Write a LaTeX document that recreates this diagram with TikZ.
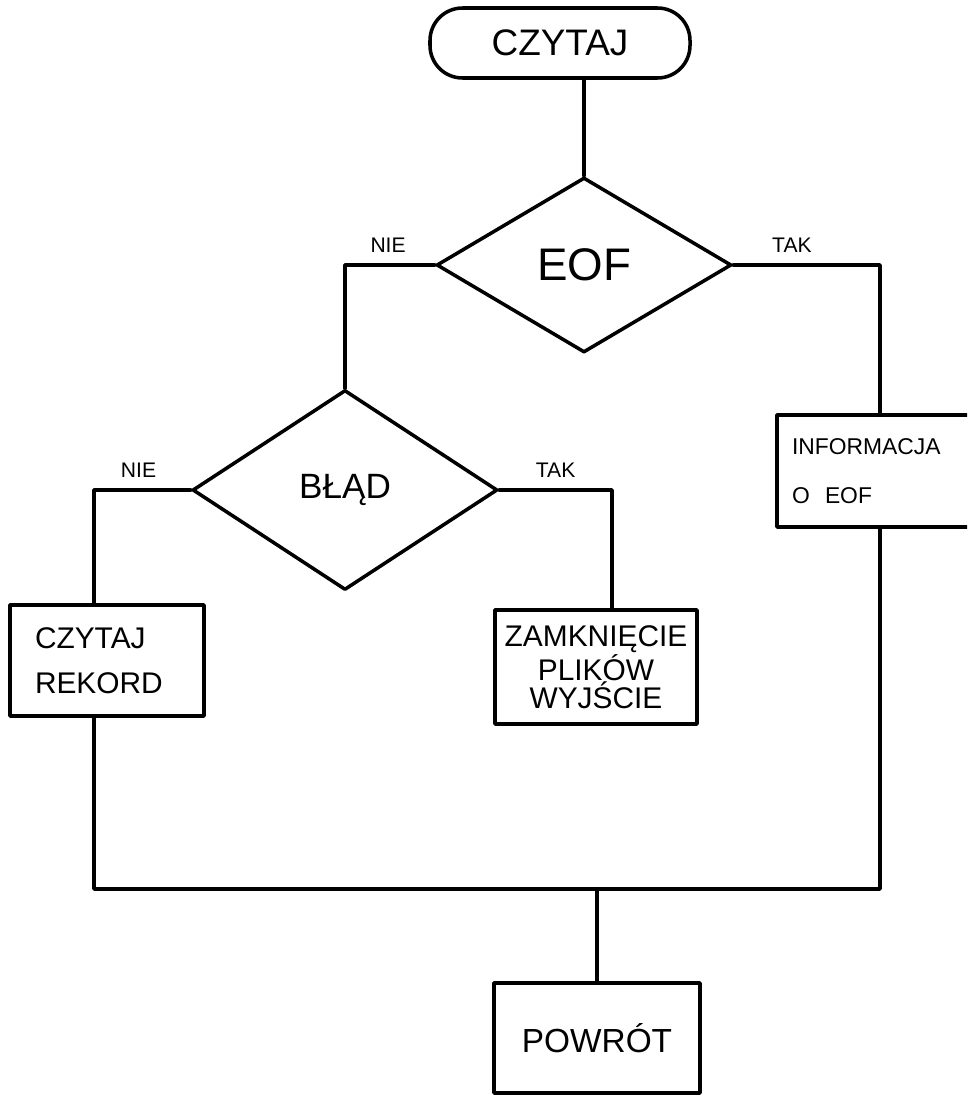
\documentclass[tikz,border=0pt]{standalone}
\usepackage{fontspec}
\setmainfont{Liberation Sans}
\usetikzlibrary{shapes.geometric}

\begin{document}
\begin{tikzpicture}[
  line width=2pt,
  line cap=round,
  line join=round,
  every node/.style={font=\fontsize{17}{16}\selectfont},
  box/.style={draw,rectangle,inner sep=0pt},
  decision/.style={draw,diamond,inner sep=0pt},
  terminal/.style={draw,rectangle,rounded corners=0.65cm,inner sep=0pt},
  answer/.style={font=\fontsize{12}{12}\selectfont,above=3pt}
]
  \clip (0,0) rectangle (19.34,-21.94);

  \coordinate (merge) at (11.94,-17.78);

  \node[terminal,minimum width=5.2cm,minimum height=1.4cm,
        font=\fontsize{21}{21}\selectfont] (start) at (11.2,-0.86) {CZYTAJ};
  \node[decision,minimum width=5.9cm,minimum height=3.5cm,
        font=\fontsize{26}{26}\selectfont] (eof) at (11.68,-5.3) {EOF};
  \node[decision,minimum width=6.1cm,minimum height=4.0cm,
        font=\fontsize{20}{20}\selectfont] (blad) at (6.9,-9.8) {BŁĄD};

  \node[box,text width=2.88cm,inner xsep=0.5cm,minimum height=2.22cm,align=left,
        font=\fontsize{17}{25.5}\selectfont] (rekord) at (2.14,-13.21) {CZYTAJ\\REKORD};
  \node[box,minimum width=4.04cm,minimum height=2.28cm,align=center]
    (zamk) at (11.92,-13.34) {ZAMKNIĘCIE\\PLIKÓW\\WYJŚCIE};
  \node[box,text width=3.52cm,inner xsep=0.3cm,minimum height=2.24cm,align=left,
        font=\fontsize{13}{28}\selectfont] (info) at (17.6,-9.42) {INFORMACJA\\O\ \ EOF};
  \node[box,minimum width=4.12cm,minimum height=2.2cm,
        font=\fontsize{19}{19}\selectfont] (powrot) at (11.94,-20.76) {POWRÓT};

  \draw (eof.north |- start.south) -- (eof.north);
  \draw (eof.west) -| node[answer,pos=0.26] {NIE} (blad.north);
  \draw (eof.east) -| node[answer,pos=0.2] {TAK} (info.north);
  \draw (blad.west) -| node[answer,pos=0.27] {NIE} ([xshift=-0.26cm]rekord.north);
  \draw (blad.east) -| node[answer,pos=0.25] {TAK} ([xshift=0.32cm]zamk.north);
  \draw ([xshift=-0.26cm]rekord.south) |- (merge) -| (info.south);
  \draw (merge) -- (powrot.north);
\end{tikzpicture}
\end{document}
